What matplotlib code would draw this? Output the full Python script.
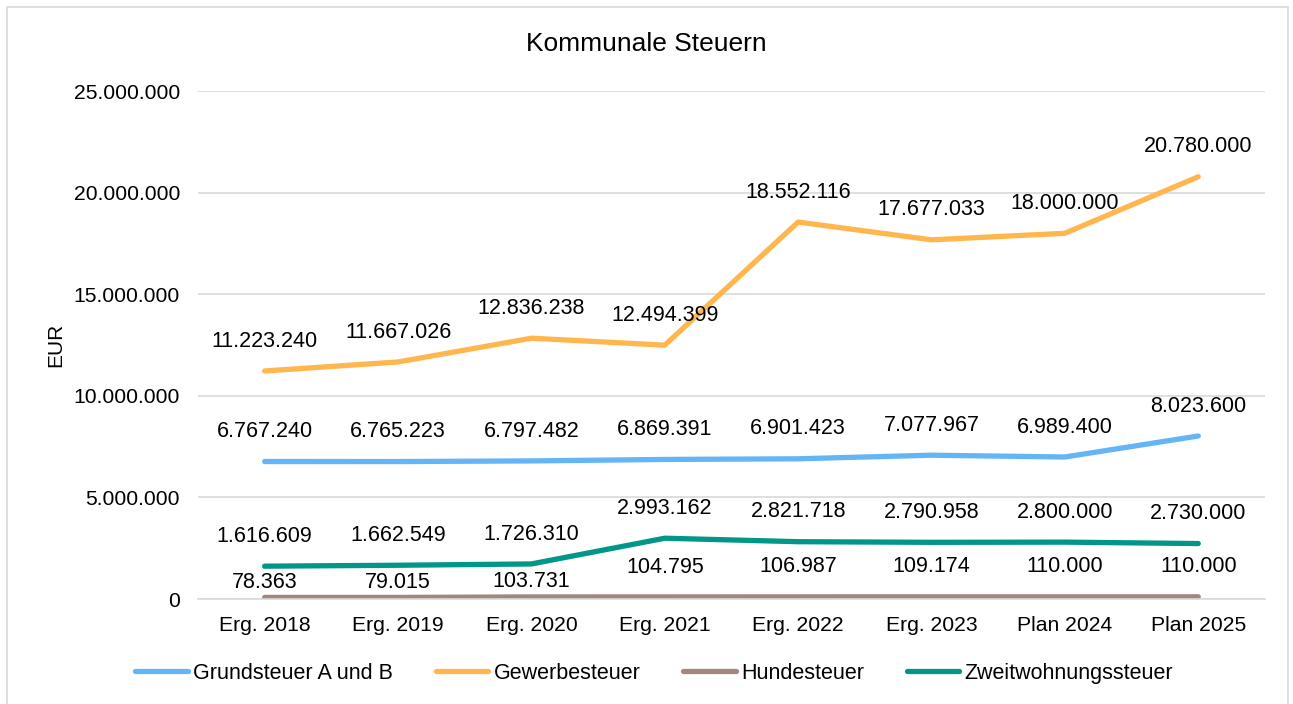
import matplotlib.pyplot as plt
from matplotlib.patches import Rectangle

plt.rcParams['font.family'] = ['Liberation Sans', 'DejaVu Sans']

years = ['Erg. 2018', 'Erg. 2019', 'Erg. 2020', 'Erg. 2021', 'Erg. 2022', 'Erg. 2023', 'Plan 2024', 'Plan 2025']
grundsteuer = [6767240, 6765223, 6797482, 6869391, 6901423, 7077967, 6989400, 8023600]
gewerbesteuer = [11223240, 11667026, 12836238, 12494399, 18552116, 17677033, 18000000, 20780000]
hundesteuer = [78363, 79015, 103731, 104795, 106987, 109174, 110000, 110000]
zweitwohnung = [1616609, 1662549, 1726310, 2993162, 2821718, 2790958, 2800000, 2730000]

series = [
    ('Grundsteuer A und B', grundsteuer, '#64B5F6'),
    ('Gewerbesteuer', gewerbesteuer, '#FFB74D'),
    ('Hundesteuer', hundesteuer, '#A1887F'),
    ('Zweitwohnungssteuer', zweitwohnung, '#009688'),
]

def fmt(v):
    return '{:,}'.format(int(v)).replace(',', '.')

fig = plt.figure(figsize=(12.93, 7.04), dpi=100)
ax = fig.add_axes([0.1531, 0.1491, 0.8252, 0.7216])
fig.patches.append(Rectangle((0.0054, -0.01), 0.9907, 1.0, transform=fig.transFigure,
                             fill=False, edgecolor='#D9D9D9', linewidth=1.2))

x = list(range(len(years)))
for name, vals, col in series:
    ax.plot(x, vals, color=col, linewidth=3.8, solid_capstyle='round', label=name)
    for xi, v in zip(x, vals):
        off = 21.5
        # Excel schiebt die ersten Hundesteuer-Labels unter die Zweitwohnungslinie
        if name == 'Hundesteuer' and xi < 3:
            off = 11
        ax.annotate(fmt(v), (xi, v), xytext=(0, off), textcoords='offset points',
                    ha='center', va='center', fontsize=15.5, color='#000000')

ax.set_xlim(-0.5, len(years) - 0.5)
ax.set_ylim(0, 25000000)
ax.set_yticks([0, 5000000, 10000000, 15000000, 20000000, 25000000])
ax.set_yticklabels([fmt(t) for t in ax.get_yticks()], fontsize=15.2)
ax.set_xticks(x)
ax.set_xticklabels(years, fontsize=15.2)
ax.tick_params(axis='y', length=0, pad=13)
ax.tick_params(axis='x', length=0, pad=12.5)
ax.grid(axis='y', color='#D9D9D9', linewidth=1.2)
ax.set_axisbelow(True)
for s in ['top', 'right', 'left']:
    ax.spines[s].set_visible(False)
ax.spines['bottom'].set_color('#D9D9D9')
ax.spines['bottom'].set_linewidth(1.2)

ax.set_ylabel('EUR', fontsize=15)
ax.yaxis.set_label_coords(-0.124, 0.5)
fig.text(0.5, 1 - 44 / 704, 'Kommunale Steuern', ha='center', va='center', fontsize=19)

fig.legend(loc='center', bbox_to_anchor=(0.506, 0.044), ncol=4, frameon=False,
           fontsize=15.5, handlelength=2.45, handletextpad=0.25, columnspacing=1.97)

plt.savefig('out.png', dpi=100)
